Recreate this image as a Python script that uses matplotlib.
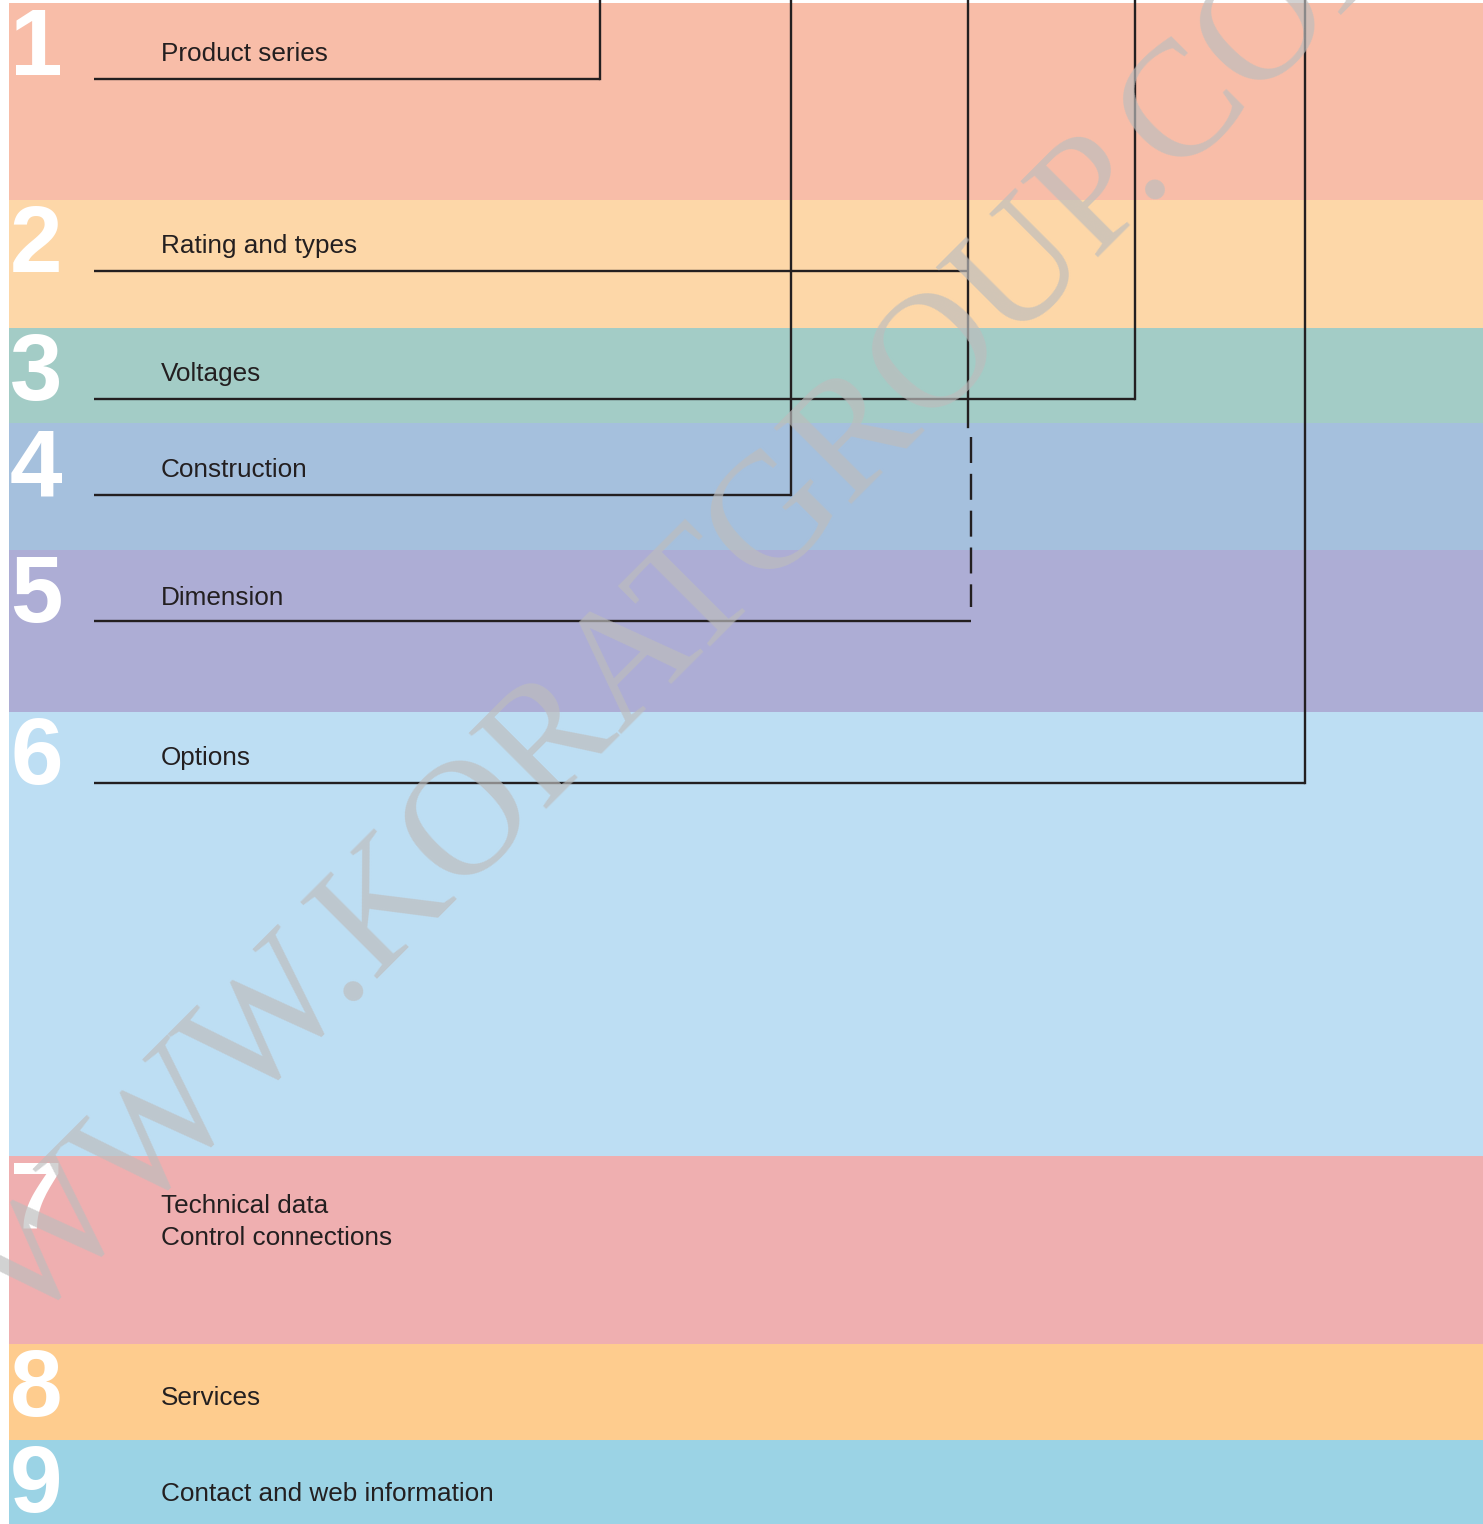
import matplotlib.pyplot as plt
import matplotlib.patches as mpatches

# section numbers and titles
numbers = ["1", "2", "3", "4", "5", "6", "7", "8", "9"]
titles = ["Product series", "Rating and types", "Voltages", "Construction",
          "Dimension", "Options", "Technical data\nControl connections",
          "Services", "Contact and web information"]
# band edges (top of each band, last = bottom of page)
band_edges = [3, 200, 328, 423, 550, 712, 1156, 1344, 1440, 1524]
band_colors = ["#F8BDA8", "#FDD7A8", "#A3CCC6", "#A5C0DD", "#ADADD5",
               "#BDDEF3", "#EFAFB0", "#FECC8E", "#9BD3E5"]
# baseline of the first title line in each band
title_base = [61, 253, 381, 477, 605, 765, 1213, 1405, 1501]
# underline rows and where each one turns up to the top
underline_y = [79, 271, 399, 495, 621, 783]
connector_x = [600, 968, 1135, 791, 971, 1305]

W, H = 1483, 1524
fig = plt.figure(figsize=(W / 100, H / 100), dpi=100)
ax = fig.add_axes([0, 0, 1, 1])
ax.set_xlim(0, W)
ax.set_ylim(H, 0)
ax.axis("off")

left = 9
for i in range(len(band_colors)):
    top, bot = band_edges[i], band_edges[i + 1]
    ax.add_patch(mpatches.Rectangle((left, top), W - left, bot - top,
                                    color=band_colors[i], lw=0, zorder=1))
    # big white number
    ax.text(10, top + 72, numbers[i], color="white", fontsize=68,
            fontweight="bold", family="Liberation Sans", ha="left",
            va="baseline", zorder=3)

# titles (one text per line)
for t, yb in zip(titles, title_base):
    for j, line in enumerate(t.split("\n")):
        ax.text(161, yb + 32 * j, line, color="#231f20", fontsize=18.8,
                family="Liberation Sans", ha="left", va="baseline", zorder=3)

lc = "#231f20"
lw = 1.7
# underlines with vertical runs up to the top
for k, (y, x) in enumerate(zip(underline_y, connector_x)):
    ax.plot([94, x], [y, y], color=lc, lw=lw, zorder=4, solid_capstyle="butt")
    if k == 1:
        # row 2 feeds the shared line that continues dashed down to row 5
        ax.plot([x, x], [0, 427], color=lc, lw=lw, zorder=4)
    elif k == 4:
        ax.plot([x, x], [437, 607], color=lc, lw=lw, zorder=4,
                dashes=(11, 4.6), solid_capstyle="butt",
                dash_capstyle="butt")
    else:
        ax.plot([x, x], [0, y], color=lc, lw=lw, zorder=4)

# watermark
ax.text(25, 1331, "WWW.KORATGROUP.COM", rotation=45, rotation_mode="anchor",
        fontsize=119, family="Liberation Serif", color="#bdbdbd", alpha=0.68,
        ha="left", va="baseline", zorder=5)

fig.savefig("out.png", dpi=100)
